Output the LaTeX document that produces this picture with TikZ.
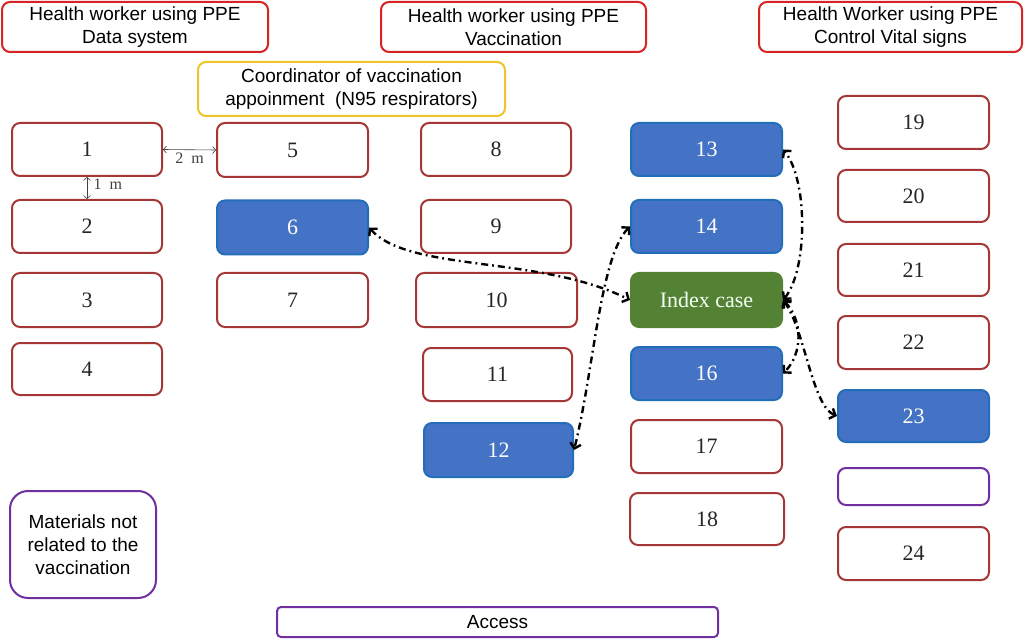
\documentclass[tikz,border=0pt]{standalone}
\usepackage{fontspec}
\setmainfont{Liberation Serif}
\setsansfont{Liberation Sans}
\usetikzlibrary{arrows.meta}

\definecolor{deskred}{RGB}{165,55,55}
\definecolor{hdrred}{RGB}{215,35,35}
\definecolor{coordyel}{RGB}{240,195,45}
\definecolor{seatblue}{RGB}{68,114,196}
\definecolor{seatedge}{RGB}{35,110,185}
\definecolor{idxgreen}{RGB}{84,130,53}
\definecolor{matpurple}{RGB}{112,48,160}

\begin{document}
\begin{tikzpicture}[x=1pt,y=-1pt,
desk/.style={draw=deskred, line width=2pt, rounded corners=8pt, fill=white, minimum width=150pt, minimum height=53pt, font=\fontsize{22}{24}\selectfont, text=black!85},
exposed/.style={desk, draw=seatedge, fill=seatblue, text=white},
idx/.style={desk, draw=idxgreen, fill=idxgreen, text=green!5},
header/.style={draw=hdrred, line width=2pt, rounded corners=8pt, minimum height=50pt, align=center, font=\sffamily\fontsize{19}{23}\selectfont},
misc/.style={header, draw=matpurple},
spread/.style={line width=2.4pt, dash pattern=on 7pt off 4pt on 1.8pt off 4pt, {Straight Barb[length=5pt,width=11pt]}-{Straight Barb[length=5pt,width=11pt]}},
gap/.style={line width=0.6pt, black!75, {Straight Barb[length=3pt,width=7pt]}-{Straight Barb[length=3pt,width=7pt]}}]
\useasboundingbox (0,0) rectangle (1026,639);
\node[header, minimum width=266pt] (hdata) at (135,27) {Health worker using PPE\\Data system};
\node[header, minimum width=265pt] (hvacc) at (513.5,27) {Health worker using PPE\\Vaccination};
\node[header, minimum width=263pt] (hvital) at (890.5,27) {Health Worker using PPE\\Control Vital signs};
\node[header, draw=coordyel, minimum width=307pt, minimum height=54pt] (coord) at (351.5,89) {Coordinator of vaccination\\appoinment \ (N95 respirators)};

\node[desk] (n1) at (87,149.5) {1};
\node[desk] (n2) at (87,226.5) {2};
\node[desk, minimum height=54pt] (n3) at (87,300) {3};
\node[desk, minimum height=52pt] (n4) at (87,369) {4};

\node[desk, minimum width=151pt, minimum height=54pt] (n5) at (292.5,150) {5};
\node[exposed, minimum width=151pt, minimum height=54pt] (n6) at (292.5,227.5) {6};
\node[desk, minimum width=151pt, minimum height=54pt] (n7) at (292.5,300) {7};

\node[desk] (n8) at (496,149.5) {8};
\node[desk] (n9) at (496,226.5) {9};
\node[desk, minimum width=161pt, minimum height=54pt] (n10) at (496.5,300) {10};
\node[desk, minimum width=149pt] (n11) at (497.5,374.5) {11};
\node[exposed, minimum width=149pt, minimum height=54pt] (n12) at (498.5,450) {12};

\node[exposed, minimum width=151pt] (n13) at (706.5,149.5) {13};
\node[exposed, minimum width=151pt] (n14) at (706.5,226.5) {14};
\node[idx, minimum width=151pt, minimum height=54pt] (index) at (706.5,300) {Index case};
\node[exposed, minimum width=151pt] (n16) at (706.5,373.5) {16};
\node[desk, minimum width=151pt] (n17) at (706.5,446.5) {17};
\node[desk, minimum width=154pt, minimum height=52pt] (n18) at (707,519) {18};

\node[desk, minimum width=151pt] (n19) at (913.5,122.5) {19};
\node[desk, minimum width=151pt, minimum height=52pt] (n20) at (913.5,196) {20};
\node[desk, minimum width=151pt, minimum height=52pt] (n21) at (913.5,270) {21};
\node[desk, minimum width=151pt] (n22) at (913.5,342.5) {22};
\node[exposed, minimum width=151pt, minimum height=52pt] (n23) at (913.5,416) {23};
\node[desk, draw=matpurple, minimum width=151pt, minimum height=37pt] (blank) at (913.5,486.5) {};
\node[desk, minimum width=151pt] (n24) at (913.5,553.5) {24};

\node[misc, minimum width=146pt, minimum height=107pt, rounded corners=18pt] (materials) at (83,544.5) {Materials not\\related to the\\vaccination};
\node[misc, minimum width=441pt, minimum height=30pt, rounded corners=4pt] (access) at (497.5,622) {Access};

\draw[gap] (n1.east) -- node[below=0pt, font=\fontsize{16}{16}\selectfont] {2\hspace{0.5em}m} (n5.west);
\draw[gap] (n1.south) -- node[right=3pt, yshift=4pt, font=\fontsize{16}{16}\selectfont] {1\hspace{0.5em}m} (n2.north);

\draw[spread] (n6.east) .. controls +(40,45) and +(-90,-45) .. (index.west);
\draw[spread] (n14.west) .. controls +(-30,30) and +(20,-80) .. (n12.east);
\draw[spread] (index.east) .. controls +(25,-30) and +(25,30) .. (n13.east);
\draw[spread] (index.east) .. controls +(20,20) and +(20,-20) .. (n16.east);
\draw[spread] (index.east) .. controls +(22,30) and +(-25,-10) .. (n23.west);
\end{tikzpicture}
\end{document}
